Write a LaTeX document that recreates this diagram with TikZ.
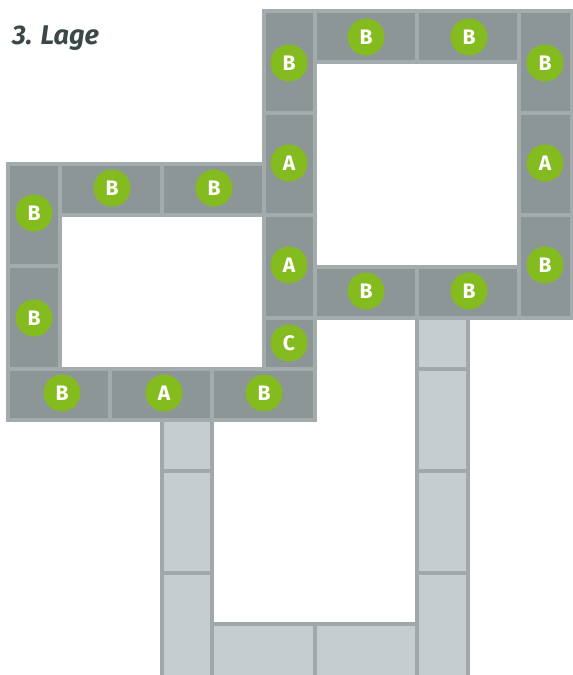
\documentclass[tikz,border=0pt]{standalone}
\usepackage{fontspec}
\setmainfont{Fira Sans}
\definecolor{darkfill}{HTML}{8C9696}
\definecolor{darkline}{HTML}{A3ABAC}
\definecolor{lightfill}{HTML}{C5CDCF}
\definecolor{lightline}{HTML}{A0A8A9}
\definecolor{mark}{HTML}{84BB1E}
\definecolor{titlecol}{HTML}{3C4848}
\tikzset{
  darkbrick/.style={fill=darkfill,draw=darkline,line width=3.5pt},
  lightbrick/.style={fill=lightfill,draw=lightline,line width=3.5pt},
  stone/.style={circle,fill=mark,text=white,minimum size=37pt,inner sep=0pt,
    font=\bfseries\fontsize{21}{21}\selectfont}
}
\begin{document}
\begin{tikzpicture}[x=1pt,y=-1pt]
\useasboundingbox (0,0) rectangle (573,675);
% lower layer (light)
\foreach \a/\b/\c/\d in {162/420/212/471, 162/471/212/573, 162/573/212/678,
  212/624/315/678, 315/624/417/678,
  417/318/468/369, 417/369/468/471, 417/471/468/573, 417/573/468/678}
  \draw[lightbrick] (\a,\b) rectangle (\c,\d);
% upper layer (dark)
\foreach \a/\b/\c/\d in {264/11/315/113, 315/11/417/62, 417/11/519/62,
  519/11/572/113, 519/113/572/215, 519/215/572/318,
  264/113/315/215, 264/215/315/318, 315/267/417/318, 417/267/519/318,
  264/318/315/369,
  8/164/60/266, 60/164/162/215, 162/164/264/215, 8/266/60/369,
  8/369/110/420, 110/369/212/420, 212/369/315/420}
  \draw[darkbrick] (\a,\b) rectangle (\c,\d);
% labels
\node[stone] (u1) at (289,63) {B};
\node[stone] (u2) at (366,37) {B};
\node[stone] (u3) at (469,37) {B};
\node[stone] (u4) at (545,63) {B};
\node[stone] (u5) at (545,163) {A};
\node[stone] (u6) at (545,265) {B};
\node[stone] (u7) at (289,163) {A};
\node[stone] (u8) at (289,265) {A};
\node[stone] (u9) at (366,291) {B};
\node[stone] (u10) at (469,291) {B};
\node[stone] (u11) at (289,343) {C};
\node[stone] (l1) at (34,213) {B};
\node[stone] (l2) at (112,188) {B};
\node[stone] (l3) at (214,188) {B};
\node[stone] (l4) at (34,318) {B};
\node[stone] (l5) at (62,393) {B};
\node[stone] (l6) at (164,393) {A};
\node[stone] (l7) at (264,393) {B};
% title
\node[anchor=west,text=titlecol,font=\bfseries\itshape\fontsize{27}{27}\selectfont,inner sep=0pt] (title) at (12,38) {3. Lage};
\end{tikzpicture}
\end{document}
